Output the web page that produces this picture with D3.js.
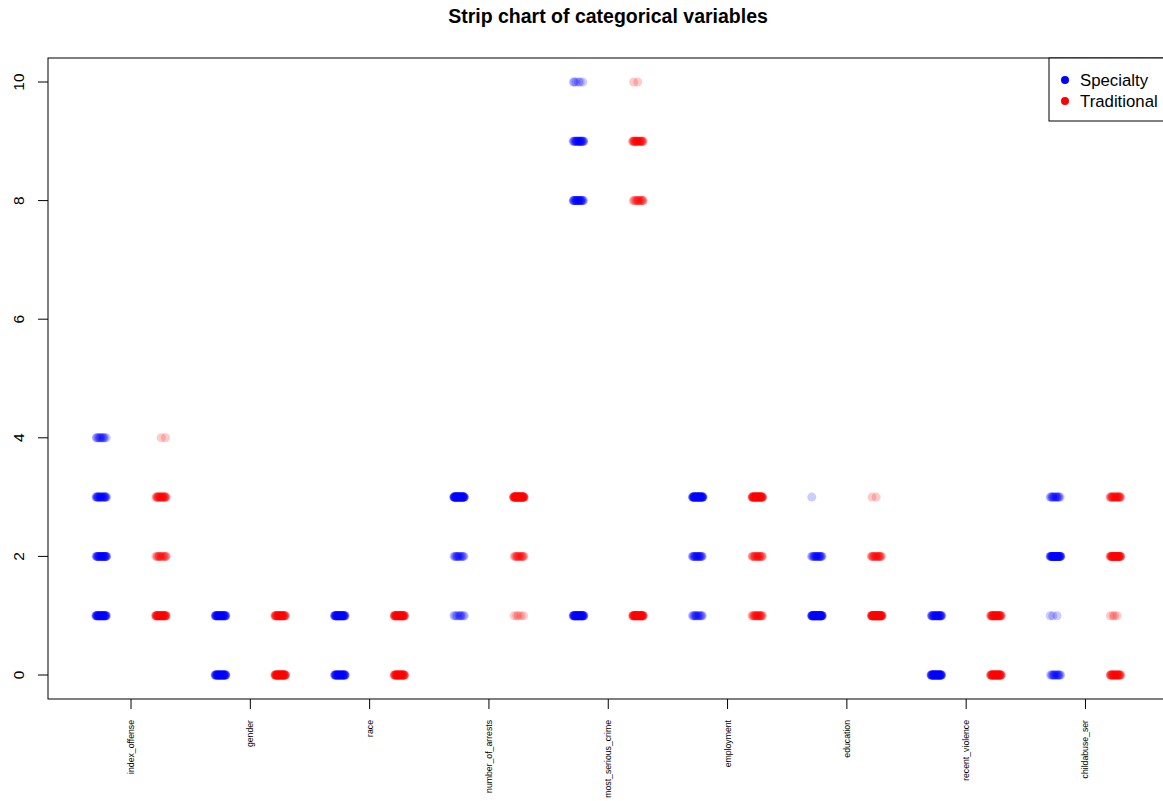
<!DOCTYPE html>
<html>
<head>
<meta charset="utf-8">
<script src="https://cdn.jsdelivr.net/npm/d3@7"></script>
<style>
  body { margin: 0; background: #fff; }
  text { font-family: "Liberation Sans", Arial, sans-serif; }
</style>
</head>
<body>
<div id="chart"></div>
<script>
// variables shown on the x axis
const variables = ['index_offense', 'gender', 'race', 'number_of_arrests', 'most_serious_crime',
                   'employment', 'education', 'recent_violence', 'childabuse_ser'];
// levels observed for every variable
const levels = [
  [1, 2, 3, 4],
  [0, 1],
  [0, 1],
  [1, 2, 3],
  [1, 8, 9, 10],
  [1, 2, 3],
  [1, 2, 3],
  [0, 1],
  [0, 1, 2, 3]
];
// number of cases at each level (same order as levels)
const specialtyCounts = [
  [40, 30, 25, 12],
  [45, 40],
  [40, 45],
  [10, 14, 60],
  [50, 25, 25, 6],
  [14, 20, 50],
  [60, 20, 1],
  [50, 30],
  [15, 3, 45, 15]
];
const traditionalCounts = [
  [40, 15, 25, 2],
  [50, 35],
  [40, 45],
  [5, 15, 60],
  [50, 15, 25, 2],
  [20, 18, 50],
  [60, 18, 2],
  [45, 35],
  [30, 4, 40, 25]
];
const groups = ['Specialty', 'Traditional'];
const groupColors = ['#0000ff', '#ff0000'];
const yTicks = [0, 2, 4, 6, 8, 10];

const W = 1163, H = 801;
const svg = d3.select('#chart').append('svg').attr('width', W).attr('height', H);

const plot = { left: 48, top: 58, bottom: 699, right: 1185 };

// group position 1..18 (two strips per variable)
const x = d3.scaleLinear().domain([1, 18]).range([101.2, 1115.3]);
const y = d3.scaleLinear().domain([0, 10]).range([675, 82]);

// frame
svg.append('rect')
  .attr('x', plot.left).attr('y', plot.top)
  .attr('width', plot.right - plot.left).attr('height', plot.bottom - plot.top)
  .attr('fill', 'none').attr('stroke', '#000').attr('stroke-width', 1);

// title
svg.append('text')
  .attr('x', 608).attr('y', 23)
  .attr('text-anchor', 'middle')
  .attr('font-size', 19.5).attr('font-weight', 'bold')
  .text('Strip chart of categorical variables');

// y axis
const yAxis = svg.append('g');
yAxis.selectAll('line').data(yTicks).join('line')
  .attr('x1', plot.left - 10).attr('x2', plot.left)
  .attr('y1', d => y(d)).attr('y2', d => y(d))
  .attr('stroke', '#000');
yAxis.selectAll('text').data(yTicks).join('text')
  .attr('transform', d => 'translate(24,' + y(d) + ') rotate(-90)')
  .attr('text-anchor', 'middle')
  .attr('font-size', 15.5)
  .text(d => d);

// x axis ticks at the middle of each pair of strips
const xAxis = svg.append('g');
xAxis.selectAll('line').data(variables).join('line')
  .attr('x1', (d, i) => x(2 * i + 1.5)).attr('x2', (d, i) => x(2 * i + 1.5))
  .attr('y1', plot.bottom).attr('y2', plot.bottom + 10)
  .attr('stroke', '#000');
xAxis.selectAll('text').data(variables).join('text')
  .attr('transform', (d, i) => 'translate(' + (x(2 * i + 1.5) + 3) + ',' + (plot.bottom + 21) + ') rotate(-90)')
  .attr('text-anchor', 'end')
  .attr('font-size', 8.7)
  .text(d => d);

// build points: deterministic jitter spread within each strip
const jitterWidth = 5.5;
const points = [];
variables.forEach((v, vi) => {
  [specialtyCounts, traditionalCounts].forEach((counts, gi) => {
    levels[vi].forEach((lev, li) => {
      const n = counts[vi][li];
      for (let k = 0; k < n; k++) {
        const u = ((k + 1) * 0.6180339887 + vi * 0.137 + li * 0.291 + gi * 0.43) % 1;
        points.push({ pos: 2 * vi + gi + 1, value: lev, dx: (u * 2 - 1) * jitterWidth, group: gi });
      }
    });
  });
});

svg.append('g').selectAll('circle').data(points).join('circle')
  .attr('cx', d => x(d.pos) + d.dx)
  .attr('cy', d => y(d.value))
  .attr('r', 4.5)
  .attr('fill', d => groupColors[d.group])
  .attr('fill-opacity', 0.2);

// legend
const legend = svg.append('g');
legend.append('rect')
  .attr('x', 1049).attr('y', plot.top)
  .attr('width', 140).attr('height', 63)
  .attr('fill', '#fff').attr('stroke', '#000');
legend.selectAll('circle').data(groups).join('circle')
  .attr('cx', 1065).attr('cy', (d, i) => 80 + i * 21)
  .attr('r', 4).attr('fill', (d, i) => groupColors[i]);
legend.selectAll('text').data(groups).join('text')
  .attr('x', 1080).attr('y', (d, i) => 86 + i * 21)
  .attr('font-size', 16.8)
  .text(d => d);
</script>
</body>
</html>
